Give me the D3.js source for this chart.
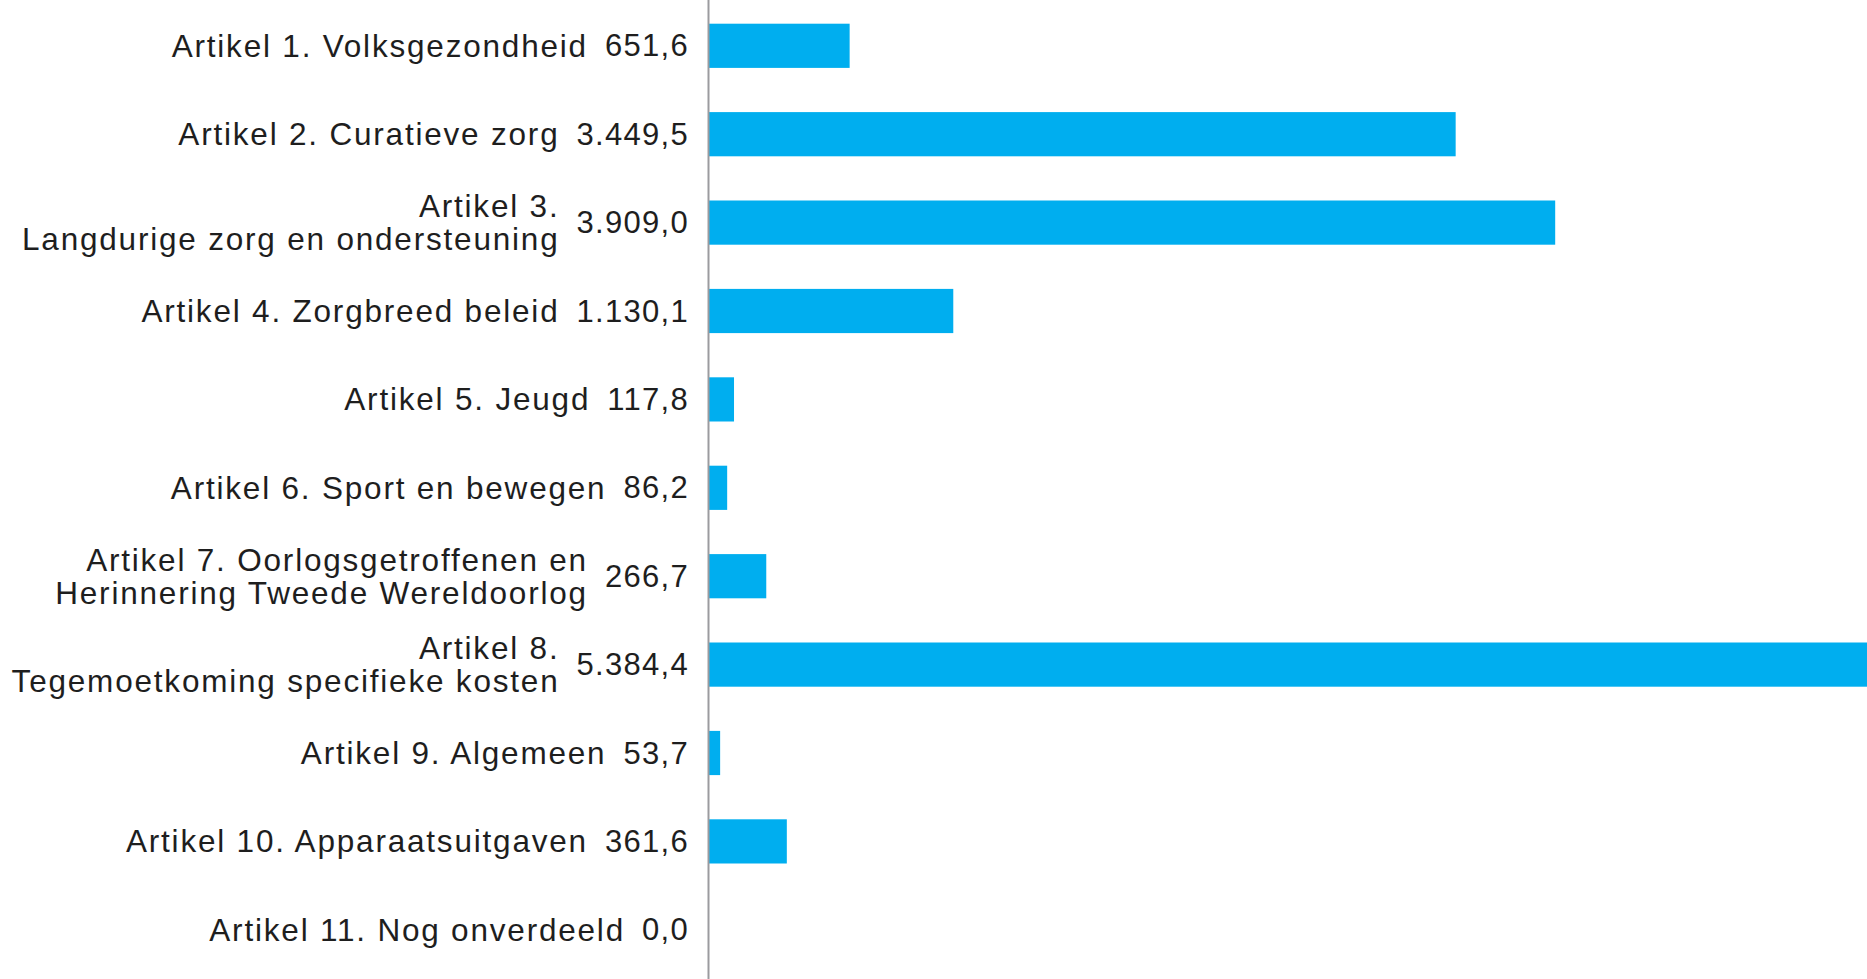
<!DOCTYPE html>
<html>
<head>
<meta charset="utf-8">
<script src="https://cdn.jsdelivr.net/npm/d3@7"></script>
<style>
  html, body { margin: 0; padding: 0; background: #ffffff; }
  svg { display: block; }
</style>
</head>
<body>
<svg id="chart" width="1867" height="979"></svg>
<script>
const categories = [
  ["Artikel 1. Volksgezondheid"],
  ["Artikel 2. Curatieve zorg"],
  ["Artikel 3.", "Langdurige zorg en ondersteuning"],
  ["Artikel 4. Zorgbreed beleid"],
  ["Artikel 5. Jeugd"],
  ["Artikel 6. Sport en bewegen"],
  ["Artikel 7. Oorlogsgetroffenen en", "Herinnering Tweede Wereldoorlog"],
  ["Artikel 8.", "Tegemoetkoming specifieke kosten"],
  ["Artikel 9. Algemeen"],
  ["Artikel 10. Apparaatsuitgaven"],
  ["Artikel 11. Nog onverdeeld"]
];
const values = [651.6, 3449.5, 3909.0, 1130.1, 117.8, 86.2, 266.7, 5384.4, 53.7, 361.6, 0.0];
const valueLabels = ["651,6", "3.449,5", "3.909,0", "1.130,1", "117,8", "86,2", "266,7", "5.384,4", "53,7", "361,6", "0,0"];

const svg = d3.select("#chart");
const W = 1867, H = 979;
const x0 = 708.5;
const pxPerUnit = 0.2166;
const keys = categories.map((c, i) => i);

const x = d3.scaleLinear().domain([0, (W - x0) / pxPerUnit]).range([x0, W]);
const y = d3.scaleBand().domain(keys).range([1.6, 974]).paddingInner(0.5).paddingOuter(0.25);

const font = "'Liberation Sans', Arial, sans-serif";
const textColor = "#1e1e1e";

// bars
svg.append("g").selectAll("rect").data(keys).join("rect")
  .attr("x", x(0))
  .attr("y", d => y(d))
  .attr("width", d => Math.max(0, x(values[d]) - x(0)))
  .attr("height", y.bandwidth())
  .attr("fill", "#00aeef");

// axis line
svg.append("line")
  .attr("x1", x0).attr("x2", x0)
  .attr("y1", 0).attr("y2", H)
  .attr("stroke", "#9b9b9f").attr("stroke-width", 2);

const valueRight = 689;
const gap = 17;
const g = svg.append("g").attr("font-family", font).attr("fill", textColor);

keys.forEach(i => {
  const cy = y(i) + y.bandwidth() / 2;
  const vt = g.append("text")
    .attr("x", valueRight).attr("y", cy)
    .attr("text-anchor", "end")
    .attr("dominant-baseline", "central")
    .attr("font-size", 31)
    .attr("letter-spacing", 1.3)
    .text(valueLabels[i]);
  const vw = vt.node().getComputedTextLength();
  const lx = valueRight - vw - gap;
  const lines = categories[i];
  const lh = 33;
  lines.forEach((line, j) => {
    const off = (j - (lines.length - 1) / 2) * lh;
    g.append("text")
      .attr("x", lx).attr("y", cy + off)
      .attr("text-anchor", "end")
      .attr("dominant-baseline", "central")
      .attr("font-size", 31.5)
      .attr("letter-spacing", 1.8)
      .text(line);
  });
});
</script>
</body>
</html>
